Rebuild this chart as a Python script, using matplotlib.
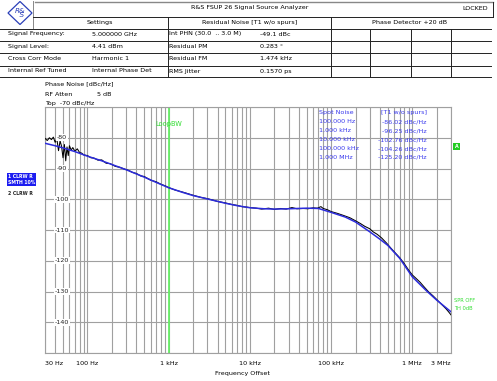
import matplotlib
matplotlib.use("Agg")
import matplotlib.pyplot as plt
from matplotlib.patches import Rectangle, Polygon
from matplotlib.lines import Line2D
from matplotlib.ticker import NullFormatter

# ---------------- data ----------------
blue_freq = [30, 40, 50, 70, 100, 150, 200, 300, 500, 700, 1000, 1500, 2000, 3000,
             5000, 7000, 10000, 15000, 20000, 30000, 50000, 70000, 100000, 150000,
             200000, 300000, 400000, 500000, 700000, 1000000, 1500000, 2000000, 3000000]
blue_val = [-81.8, -82.6, -83.3, -84.5, -86.0, -87.5, -88.7, -90.4, -92.8, -94.5, -96.25,
            -97.8, -98.8, -99.9, -101.3, -102.1, -102.76, -103.1, -103.2, -103.1, -102.9,
            -103.0, -104.26, -105.8, -107.4, -110.6, -113.0, -115.0, -119.2, -125.2,
            -129.8, -132.8, -136.6]

black_freq = [30, 32, 34, 36, 38, 40, 42, 44, 46, 48, 50, 52, 54, 56, 58, 60, 63, 66, 70,
              75, 80, 85, 90, 100, 110, 120, 135, 150, 170, 190, 220, 250, 280, 320, 360,
              400, 450, 500, 600, 700, 800, 900, 1000, 1200, 1500, 2000, 2500, 3000, 4000,
              5000, 6000, 7000, 8000, 10000, 12000, 14000, 17000, 20000, 24000, 28000,
              33000, 38000, 45000, 52000, 60000, 68000, 75000, 80000, 90000, 100000,
              120000, 140000, 170000, 200000, 230000, 260000, 300000, 330000, 370000,
              420000, 480000, 550000, 620000, 700000, 800000, 900000, 1000000, 1100000,
              1250000, 1400000, 1600000, 1800000, 2000000, 2300000, 2600000, 2800000,
              3000000]
black_val = [-80.2, -80.9, -80.0, -80.6, -79.8, -81.5, -80.4, -84.2, -81.0, -82.8, -86.5,
             -82.2, -87.5, -83.0, -85.8, -82.6, -84.0, -83.2, -84.4, -83.6, -84.8, -85.0,
             -85.6, -85.8, -86.5, -86.6, -87.3, -87.2, -88.3, -88.4, -89.3, -89.6, -90.1,
             -90.6, -91.3, -91.6, -92.4, -92.6, -93.8, -94.3, -95.1, -95.6, -96.2, -97.0,
             -97.7, -98.7, -99.4, -99.8, -100.7, -101.2, -101.7, -102.0, -102.4, -102.7,
             -102.9, -103.2, -102.9, -103.3, -103.0, -103.2, -102.7, -103.1, -103.0,
             -103.1, -102.8, -102.9, -102.4, -103.0, -103.4, -104.0, -104.6, -105.2,
             -106.0, -107.0, -107.9, -108.8, -109.6, -110.6, -111.4, -112.6, -114.2,
             -116.0, -117.5, -119.0, -121.0, -123.0, -124.6, -125.6, -127.0, -128.5,
             -130.2, -131.4, -132.6, -134.2, -135.6, -136.6, -137.6]

xtick_vals = [30, 100, 1000, 10000, 100000, 1000000, 3000000]
xtick_labels = ["30 Hz", "100 Hz", "1 kHz", "10 kHz", "100 kHz", "1 MHz", "3 MHz"]
ytick_vals = [-80, -90, -100, -110, -120, -130, -140]

spot_labels = ["100.000 Hz", "1.000 kHz", "10.000 kHz", "100.000 kHz", "1.000 MHz"]
spot_values = [-86.02, -96.25, -102.76, -104.26, -125.20]

settings_rows = [("Signal Frequency:", "5.000000 GHz"),
                 ("Signal Level:", "4.41 dBm"),
                 ("Cross Corr Mode", "Harmonic 1"),
                 ("Internal Ref Tuned", "Internal Phase Det")]
residual_rows = [("Int PHN (30.0  .. 3.0 M)", "-49.1 dBc"),
                 ("Residual PM", "0.283 \u00b0"),
                 ("Residual FM", "1.474 kHz"),
                 ("RMS Jitter", "0.1570 ps")]
loop_bw = 1000

# ---------------- figure ----------------
W, H = 497, 381
fig = plt.figure(figsize=(W / 100, H / 100), dpi=100)
fig.patch.set_facecolor("white")
plt.rcParams["font.family"] = ["DejaVu Sans"]

def fx(x):
    return x / W

def fy(y):
    return 1 - y / H

def ftext(x, y, s, **kw):
    kw.setdefault("fontsize", 4.6)
    kw.setdefault("va", "center")
    fig.text(fx(x), fy(y), s, **kw)

def fline(x0, y0, x1, y1, color="#222222", lw=0.7):
    fig.add_artist(Line2D([fx(x0), fx(x1)], [fy(y0), fy(y1)], color=color, lw=lw,
                          transform=fig.transFigure))

# ---- header table ----
fline(35, 2, 493, 2, color="#888888", lw=1.0)
fline(33, 1, 33, 28, color="#888888", lw=0.7)
fline(493, 2, 493, 17, color="#222222")
fline(33, 17, 493, 17)
for yy in [29, 41, 53, 66, 77]:
    fline(0, yy, 491, yy)
for xx in [168, 331]:
    fline(xx, 17, xx, 77)
for xx in [370, 411, 451]:
    fline(xx, 29, xx, 77)

# logo
diamond = Polygon([[fx(20), fy(1.5)], [fx(32), fy(13)], [fx(20), fy(24.5)], [fx(8), fy(13)]],
                  closed=True, fill=False, edgecolor="#2a3fb8", lw=0.9,
                  transform=fig.transFigure)
fig.add_artist(diamond)
ftext(20, 13, "R&\n  S", fontsize=5.2, color="#2a3fb8", ha="center", style="italic",
      linespacing=0.75)

ftext(250, 8, "R&S FSUP 26 Signal Source Analyzer", ha="center")
ftext(488, 8, "LOCKED", ha="right")
ftext(100, 22.5, "Settings", ha="center")
ftext(250, 22.5, "Residual Noise [T1 w/o spurs]", ha="center")
ftext(410, 22.5, "Phase Detector +20 dB", ha="center")

row_y = [34, 46.5, 59, 71]
for (lab, val), yy in zip(settings_rows, row_y):
    ftext(8, yy, lab, ha="left")
    ftext(92, yy, val, ha="left")
for (lab, val), yy in zip(residual_rows, row_y):
    ftext(169, yy, lab, ha="left")
    ftext(260, yy, val, ha="left")

# ---- above plot ----
ftext(45, 83.5, "Phase Noise [dBc/Hz]", ha="left")
ftext(45, 94, "RF Atten", ha="left")
ftext(97, 94, "5 dB", ha="left")
ftext(45, 104, "Top  -70 dBc/Hz", ha="left")

# ---- axes ----
L, R, T, B = 45, 451, 107, 353
ax = fig.add_axes([fx(L), fy(B), (R - L) / W, (B - T) / H])
ax.set_xscale("log")
ax.set_xlim(30, 3e6)
ax.set_ylim(-150, -70)
ax.set_xticks(xtick_vals, xtick_labels)
ax.xaxis.set_minor_formatter(NullFormatter())
ax.set_yticks(list(range(-150, -69, 10)))
ax.set_yticklabels([])
ax.tick_params(axis="both", which="both", length=0)
ax.tick_params(axis="x", labelsize=4.6, pad=5.5)
tl = ax.get_xticklabels()
tl[0].set_ha("left")
tl[-1].set_ha("right")
ax.grid(True, which="both", color="#a0a0a0", lw=0.8)
for sp in ax.spines.values():
    sp.set_color("#a0a0a0")
    sp.set_linewidth(0.8)

ax.axvline(loop_bw, color="#66ee66", lw=1.3, zorder=2.5)
ax.text(loop_bw, -75.5, "LoopBW", color="#33dd33", fontsize=4.8, ha="center", va="center")

ax.plot(black_freq, black_val, color="black", lw=0.75, zorder=3)
ax.plot(blue_freq, blue_val, color="#2c2cdc", lw=1.1, zorder=4)

for v in ytick_vals:
    ax.text(0.042, v, str(v), transform=ax.get_yaxis_transform(), ha="center", va="center",
            fontsize=4.6, color="#222222", zorder=5,
            bbox=dict(boxstyle="square,pad=0.15", fc="white", ec="none"))

# spot noise table
blue_txt = "#3a3aee"
ftext(319, 112.5, "Spot Noise", ha="left", color=blue_txt)
ftext(427, 112.5, "[T1 w/o spurs]", ha="right", color=blue_txt)
for i, (lab, val) in enumerate(zip(spot_labels, spot_values)):
    yy = 121.7 + i * 8.95
    ftext(319, yy, lab, ha="left", color=blue_txt)
    ftext(427, yy, f"{val:.2f} dBc/Hz", ha="right", color=blue_txt)

ftext(242, 374, "Frequency Offset", ha="center")

# left trace labels
fig.add_artist(Rectangle((fx(7), fy(185.5)), (36 - 7) / W, 12.5 / H, transform=fig.transFigure,
                         facecolor="#1c1cf0", edgecolor="none"))
ftext(8, 176, "1 CLRW R", ha="left", color="white", fontsize=3.3, weight="bold")
ftext(8, 182.5, "SMTH 10%", ha="left", color="white", fontsize=3.3, weight="bold")
ftext(8, 193.5, "2 CLRW R", ha="left", color="#222222", fontsize=3.3, weight="bold")

# green A marker
fig.add_artist(Rectangle((fx(453), fy(149.5)), 7 / W, 7 / H, transform=fig.transFigure,
                         facecolor="#22cc22", edgecolor="none"))
ftext(456.5, 146, "A", ha="center", color="white", fontsize=3.5, weight="bold")

ftext(454, 301, "SPR OFF", ha="left", color="#33dd33", fontsize=3.7)
ftext(454, 308, "TH 0dB", ha="left", color="#33dd33", fontsize=3.7)

fig.savefig("out.png", dpi=100, facecolor="white")
